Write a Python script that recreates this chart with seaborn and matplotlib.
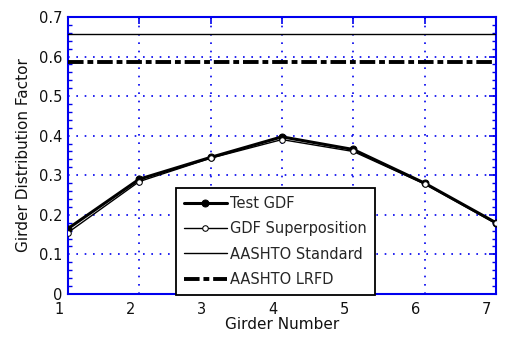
import numpy as np
import pandas as pd
import matplotlib
matplotlib.use("Agg")
import matplotlib.pyplot as plt
import matplotlib.transforms as mtransforms
import seaborn as sns

# Girder distribution factors per girder
girders = [1, 2, 3, 4, 5, 6, 7]
test_gdf = [0.165, 0.290, 0.345, 0.397, 0.365, 0.280, 0.180]
superposition_gdf = [0.155, 0.284, 0.343, 0.390, 0.360, 0.278, 0.178]
aashto_standard = 0.657
aashto_lrfd = 0.586

x_ticks = [1, 2, 3, 4, 5, 6, 7]
y_ticks = [0, 0.1, 0.2, 0.3, 0.4, 0.5, 0.6, 0.7]

sns.set_theme(style="white")
plt.rcParams['font.family'] = ['DejaVu Sans']

fig = plt.figure(figsize=(5.07, 3.39), dpi=100)
ax = fig.add_axes([0.134, 0.133, 0.844, 0.817])

blue = "#0000ee"

df_test = pd.DataFrame({"Girder": girders, "GDF": test_gdf})
df_sup = pd.DataFrame({"Girder": girders, "GDF": superposition_gdf})

sns.lineplot(data=df_test, x="Girder", y="GDF", ax=ax, color="black", lw=2.2,
             marker="o", markersize=5, markerfacecolor="black",
             markeredgecolor="black", label="Test GDF", zorder=4)
sns.lineplot(data=df_sup, x="Girder", y="GDF", ax=ax, color="black", lw=1.0,
             marker="o", markersize=4, markerfacecolor="white",
             markeredgecolor="black", label="GDF Superposition", zorder=5)
ax.axhline(aashto_standard, color="black", lw=1.0, label="AASHTO Standard", zorder=3)
ax.axhline(aashto_lrfd, color="black", lw=2.8, ls=(0, (4, 1, 1.5, 1)),
           label="AASHTO LRFD", zorder=3)

ax.set_xlim(1, 7)
ax.set_ylim(0, 0.7)
ax.set_xticks(x_ticks)
ax.set_xticklabels([str(t) for t in x_ticks])
ax.set_yticks(y_ticks)
ax.set_yticklabels(["0" if t == 0 else f"{t:.1f}" for t in y_ticks])
ax.set_yticks(np.arange(0, 0.7001, 0.02), minor=True)

ax.grid(True, which="major", color=blue, ls=(0, (1, 4)), lw=1.2)
for s in ax.spines.values():
    s.set_color(blue)
    s.set_linewidth(1.5)

ax.tick_params(axis="both", which="major", direction="in", length=5,
               color=blue, width=1.2, labelsize=10.5, labelcolor="#111111",
               top=True, right=True)
ax.tick_params(axis="y", which="minor", direction="in", length=3,
               color=blue, width=1.0, left=True, right=True)
ax.tick_params(axis="x", pad=6)
ax.tick_params(axis="y", pad=4)

# shift x tick labels slightly to the left
offset = mtransforms.ScaledTranslation(-9 / 100, 0, fig.dpi_scale_trans)
for lbl in ax.get_xticklabels():
    lbl.set_transform(lbl.get_transform() + offset)

ax.set_xlabel("Girder Number", fontsize=11, labelpad=0, color="#111111")
ax.set_ylabel("Girder Distribution Factor", fontsize=11, labelpad=6, color="#111111")

leg = ax.legend(loc="lower left", bbox_to_anchor=(0.253, -0.003), fontsize=10.5,
                frameon=True, fancybox=False, framealpha=1, edgecolor="black",
                handlelength=2.9, handletextpad=0.25, borderpad=0.55,
                borderaxespad=0, labelspacing=0.7)
leg.get_frame().set_linewidth(1.3)
leg.set_zorder(10)

fig.savefig("out.png", dpi=100, facecolor="white")
